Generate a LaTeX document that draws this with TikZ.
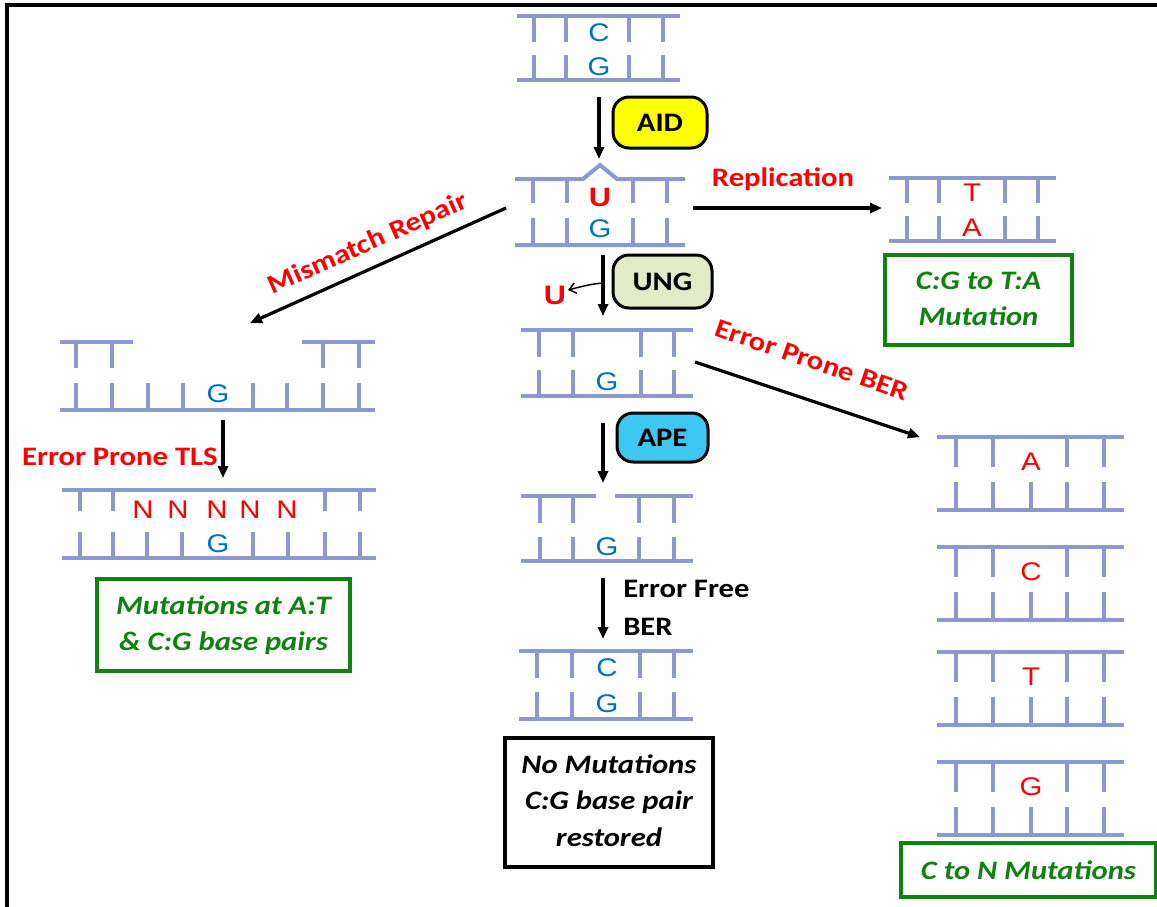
\documentclass[tikz,border=0pt]{standalone}
\usepackage{fontspec}
\usepackage{graphicx}
\setmainfont{Carlito}
\newfontfamily\arialf{Liberation Sans}
\usetikzlibrary{arrows.meta}
\definecolor{dnac}{RGB}{141,153,206}
\definecolor{bluel}{RGB}{0,112,192}
\definecolor{redl}{RGB}{255,0,0}
\definecolor{greenl}{RGB}{15,130,15}
\definecolor{aidy}{RGB}{255,255,0}
\definecolor{ungg}{RGB}{226,235,198}
\definecolor{apec}{RGB}{60,200,240}
\newcommand{\sqz}[1]{\scalebox{1}[0.87]{#1}}
\newcommand{\clines}[1]{\sqz{\begin{tabular}{@{}c@{}}#1\end{tabular}}}
\begin{document}
\begin{tikzpicture}[x=0.75pt,y=-0.75pt,
  dna/.style={draw=dnac,line width=3pt},
  base/.style={font=\arialf\fontsize{22}{24}\selectfont,inner sep=0pt},
  bl/.style={base,text=bluel},
  rd/.style={base,text=redl},
  rdb/.style={base,text=redl,font=\arialf\bfseries\fontsize{23}{24}\selectfont},
  lab/.style={font=\bfseries\fontsize{23}{31.5}\selectfont,inner sep=0pt},
  redlab/.style={lab,text=redl},
  arr/.style={-{Triangle[length=9pt,width=7.5pt]},line width=2.4pt},
  thinarr/.style={-{Straight Barb[length=5pt,width=8pt]},line width=1.1pt},
  pill/.style={lab,draw=black,line width=2.25pt,rounded corners=12pt},
  gbox/.style={draw=greenl,line width=2.4pt,text=greenl,inner sep=0pt,
    font=\bfseries\itshape\fontsize{23}{31}\selectfont},
  kbox/.style={draw=black,line width=2.4pt,text=black,inner sep=0pt,
    font=\bfseries\itshape\fontsize{23}{31.5}\selectfont}]
\useasboundingbox (0,0) rectangle (1157,907);
% frame
\draw[line width=3pt] (7,907) -- (7,5) -- (1157,5);

% ---------- ladder 1 (C:G, top)
\draw[dna] (517,16) -- (680,16) (517,80) -- (680,80);
\foreach \x in {534,566,629,663} {\draw[dna] (\x,16) -- (\x,42) (\x,55) -- (\x,80);}
\node[bl] (c1) at (599,33) {\sqz{C}};
\node[bl] (g1) at (599,67) {\sqz{G}};

% ---------- ladder 2 (U:G)
\draw[dna] (515,179) -- (583,179) -- (600,165) -- (617,179) -- (685,179) (515,245) -- (685,245);
\foreach \x in {533,567,633,667} {\draw[dna] (\x,179) -- (\x,203) (\x,218) -- (\x,245);}
\node[rdb] (u2) at (600,197) {\sqz{U}};
\node[bl] (g2) at (600,229) {\sqz{G}};

% ---------- ladder 3 (abasic)
\draw[dna] (521,330) -- (693,330) (521,396) -- (693,396);
\foreach \x in {539,573,641,674} {\draw[dna] (\x,330) -- (\x,357) (\x,370) -- (\x,396);}
\node[bl] (g3) at (607,382) {\sqz{G}};

% ---------- ladder 4 (nicked)
\draw[dna] (521,496) -- (596,496) (615,496) -- (693,496) (521,561) -- (693,561);
\foreach \x in {540,573,639,674} {\draw[dna] (\x,496) -- (\x,523) (\x,537) -- (\x,561);}
\node[bl] (g4) at (607,547) {\sqz{G}};

% ---------- ladder 5 (restored)
\draw[dna] (519,651) -- (693,651) (519,719) -- (693,719);
\foreach \x in {537,572,640,674} {\draw[dna] (\x,651) -- (\x,678) (\x,692) -- (\x,719);}
\node[bl] (c5) at (607,668) {\sqz{C}};
\node[bl] (g5) at (607,704) {\sqz{G}};

% ---------- ladder T:A
\draw[dna] (889,178) -- (1056,178) (889,241) -- (1056,241);
\foreach \x in {907,939,1005,1038} {\draw[dna] (\x,178) -- (\x,203) (\x,216) -- (\x,241);}
\node[rd] (t6) at (972,193) {\sqz{T}};
\node[rd] (a6) at (972,228) {\sqz{A}};

% ---------- ladder mismatch gap
\draw[dna] (60,342) -- (133,342) (302,342) -- (375,342) (60,410) -- (375,410);
\foreach \x in {76,112,323,359} {\draw[dna] (\x,342) -- (\x,368);}
\foreach \x in {76,112,148,183,253,287,323,359} {\draw[dna] (\x,383) -- (\x,410);}
\node[bl] (g7) at (218,394) {\sqz{G}};

% ---------- ladder NNNNN
\draw[dna] (62,490) -- (376,490) (62,558) -- (376,558);
\foreach \x in {80,113,325,360} {\draw[dna] (\x,490) -- (\x,511);}
\foreach \x in {80,113,147,182,253,288,325,360} {\draw[dna] (\x,532) -- (\x,558);}
\foreach \x/\n in {143/1,178/2,217/3,250/4,287/5} {\node[rd] (n\n) at (\x,510) {\sqz{N}};}
\node[bl] (g8) at (218,544) {\sqz{G}};

% ---------- right ladders
\foreach \T/\L/\n in {437/A/1,547/C/2,652/T/3,762/G/4} {
  \draw[dna] (937,\T) -- (1124,\T) (937,\T+73) -- (1124,\T+73);
  \foreach \x in {956,993,1067,1104} {\draw[dna] (\x,\T) -- (\x,\T+30);}
  \foreach \x in {956,993,1031,1067,1104} {\draw[dna] (\x,\T+45) -- (\x,\T+73);}
  \node[rd] (r\n) at (1031,\T+25) {\sqz{\L}};
}

% ---------- enzyme pills
\node[pill,fill=aidy,minimum width=70.5pt,minimum height=38.25pt] (aid) at (660,122.5) {\sqz{AID}};
\node[pill,fill=ungg,minimum width=74.25pt,minimum height=39.75pt] (ung) at (662.5,281.5) {\sqz{UNG}};
\node[pill,fill=apec,minimum width=68.25pt,minimum height=36.75pt] (ape) at (662.5,437.5) {\sqz{APE}};

% ---------- outcome boxes
\node[kbox,minimum width=156pt,minimum height=96.75pt] (nomut) at (609,802.5)
  {\clines{No Mutations\\C:G base pair\\restored}};
\node[gbox,minimum width=140.25pt,minimum height=67.5pt] (cgta) at (978.5,300)
  {\clines{C:G to T:A\\Mutation}};
\node[gbox,minimum width=189.75pt,minimum height=69pt] (mutat) at (223.5,625)
  {\clines{Mutations at A:T\\\& C:G base pairs}};
\node[gbox,minimum width=191.25pt,minimum height=40.5pt] (cton) at (1028.5,870)
  {\sqz{C to N Mutations}};

% ---------- labels
\node[redlab,anchor=base] (repl) at (783,186) {\sqz{Replication}};
\node[redlab,rotate=24] (mmr) at (368,244) {\sqz{Mismatch Repair}};
\node[redlab,rotate=-19] (eber) at (812,360) {\sqz{Error Prone BER}};
\node[redlab,anchor=base east] (tls) at (218,465) {\sqz{Error Prone TLS}};
\node[lab,anchor=base west,font=\bfseries\fontsize{23}{32.8}\selectfont] (efree) at (623,597)
  {\sqz{\begin{tabular}[t]{@{}l@{}}Error Free\\BER\end{tabular}}};
\node[rdb] (uout) at (555,295) {\sqz{U}};

% ---------- connector end points
\coordinate (d1out) at (599,97);   \coordinate (d2in) at (599,159);
\coordinate (d2down) at (603,255); \coordinate (d3in) at (603,316);
\coordinate (d3out) at (603,423);  \coordinate (d4in) at (603,483);
\coordinate (d4out) at (603,578);  \coordinate (d5in) at (603,639);
\coordinate (d2right) at (693,208); \coordinate (d6in) at (882,208);
\coordinate (d2left) at (506,208);  \coordinate (d7in) at (250,323);
\coordinate (d3right) at (695,362); \coordinate (r1in) at (920,437);
\coordinate (d7out) at (223,420);   \coordinate (d8in) at (223,478);
\coordinate (ungmid) at (603,283);  \coordinate (uend) at (568,290);

% ---------- connectors
\draw[arr] (d1out) -- (d2in);
\draw[arr] (d2down) -- (d3in);
\draw[arr] (d3out) -- (d4in);
\draw[arr] (d4out) -- (d5in);
\draw[arr] (d2right) -- (d6in);
\draw[arr] (d2left) -- (d7in);
\draw[arr] (d3right) -- (r1in);
\draw[arr] (d7out) -- (d8in);
\draw[thinarr] (ungmid) .. controls (590,284) and (580,287) .. (uend);
\end{tikzpicture}
\end{document}
